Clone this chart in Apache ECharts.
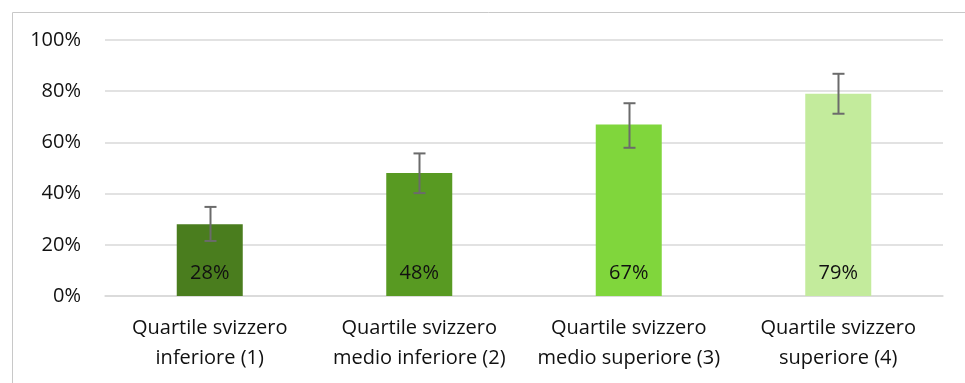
<html lang="it">
<head>
  <meta charset="UTF-8">
  <title>Quartili svizzeri</title>
  <style>
    * { margin: 0; padding: 0; }
    body { background: #fff; }
    #main { width: 965px; height: 383px; }
  </style>
</head>
<body>
  <div id="main"></div>
  <script src="https://cdn.jsdelivr.net/npm/echarts@6/dist/echarts.min.js"></script>
  <script type="text/javascript">
  // dati
  var categories = [
    'Quartile svizzero\ninferiore (1)',
    'Quartile svizzero\nmedio inferiore (2)',
    'Quartile svizzero\nmedio superiore (3)',
    'Quartile svizzero\nsuperiore (4)'
  ];
  var values = [28, 48, 67, 79];
  var errLow = [21.5, 40.2, 57.9, 71.2];
  var errHigh = [34.8, 55.7, 75.3, 86.8];
  var barColors = ['#4a7d1e', '#589a22', '#80d63c', '#c3eb9c'];
  var yTicks = [0, 20, 40, 60, 80, 100];

  var font = '"Open Sans", sans-serif';

  var myChart = echarts.init(document.getElementById('main'));

  var option = {
    animation: false,
    graphic: [
      { type: 'line', shape: { x1: 12.5, y1: 12.5, x2: 965, y2: 12.5 }, style: { stroke: '#c8c8c8', lineWidth: 1 } },
      { type: 'line', shape: { x1: 12.5, y1: 12.5, x2: 12.5, y2: 383 }, style: { stroke: '#c8c8c8', lineWidth: 1 } }
    ],
    grid: { left: 105, right: 22, top: 40, bottom: 87 },
    xAxis: {
      type: 'category',
      data: categories,
      axisTick: { show: false },
      axisLine: { lineStyle: { color: '#d9d9d9', width: 1.5 } },
      axisLabel: {
        color: '#111', fontFamily: font, fontSize: 20, lineHeight: 30,
        margin: 17, interval: 0
      }
    },
    yAxis: {
      type: 'value',
      min: 0, max: 100, interval: 20,
      axisLine: { show: false },
      axisTick: { show: false },
      splitLine: { lineStyle: { color: '#d9d9d9', width: 1.5 } },
      axisLabel: {
        color: '#111', fontFamily: font, fontSize: 20, margin: 24,
        formatter: function (v) { return yTicks.indexOf(v) >= 0 ? v + '%' : ''; }
      }
    },
    series: [
      {
        type: 'bar',
        barWidth: 66,
        data: values.map(function (v, i) {
          return { value: v, itemStyle: { color: barColors[i] } };
        }),
        label: {
          show: true,
          position: 'insideBottom',
          distance: 13,
          color: '#111', fontFamily: font, fontSize: 20,
          formatter: '{c}%'
        }
      },
      {
        type: 'custom',
        data: errLow.map(function (lo, i) { return [i, lo, errHigh[i]]; }),
        z: 10,
        renderItem: function (params, api) {
          var top = api.coord([api.value(0), api.value(2)]);
          var bot = api.coord([api.value(0), api.value(1)]);
          var x = Math.round(top[0]) + 0.5;
          var hw = 6;
          var st = { stroke: '#6b6b6b', lineWidth: 2 };
          return {
            type: 'group',
            children: [
              { type: 'line', shape: { x1: x, y1: top[1], x2: x, y2: bot[1] }, style: st },
              { type: 'line', shape: { x1: x - hw, y1: top[1], x2: x + hw, y2: top[1] }, style: st },
              { type: 'line', shape: { x1: x - hw, y1: bot[1], x2: x + hw, y2: bot[1] }, style: st }
            ]
          };
        }
      }
    ]
  };

  myChart.setOption(option);
  </script>
</body>
</html>
